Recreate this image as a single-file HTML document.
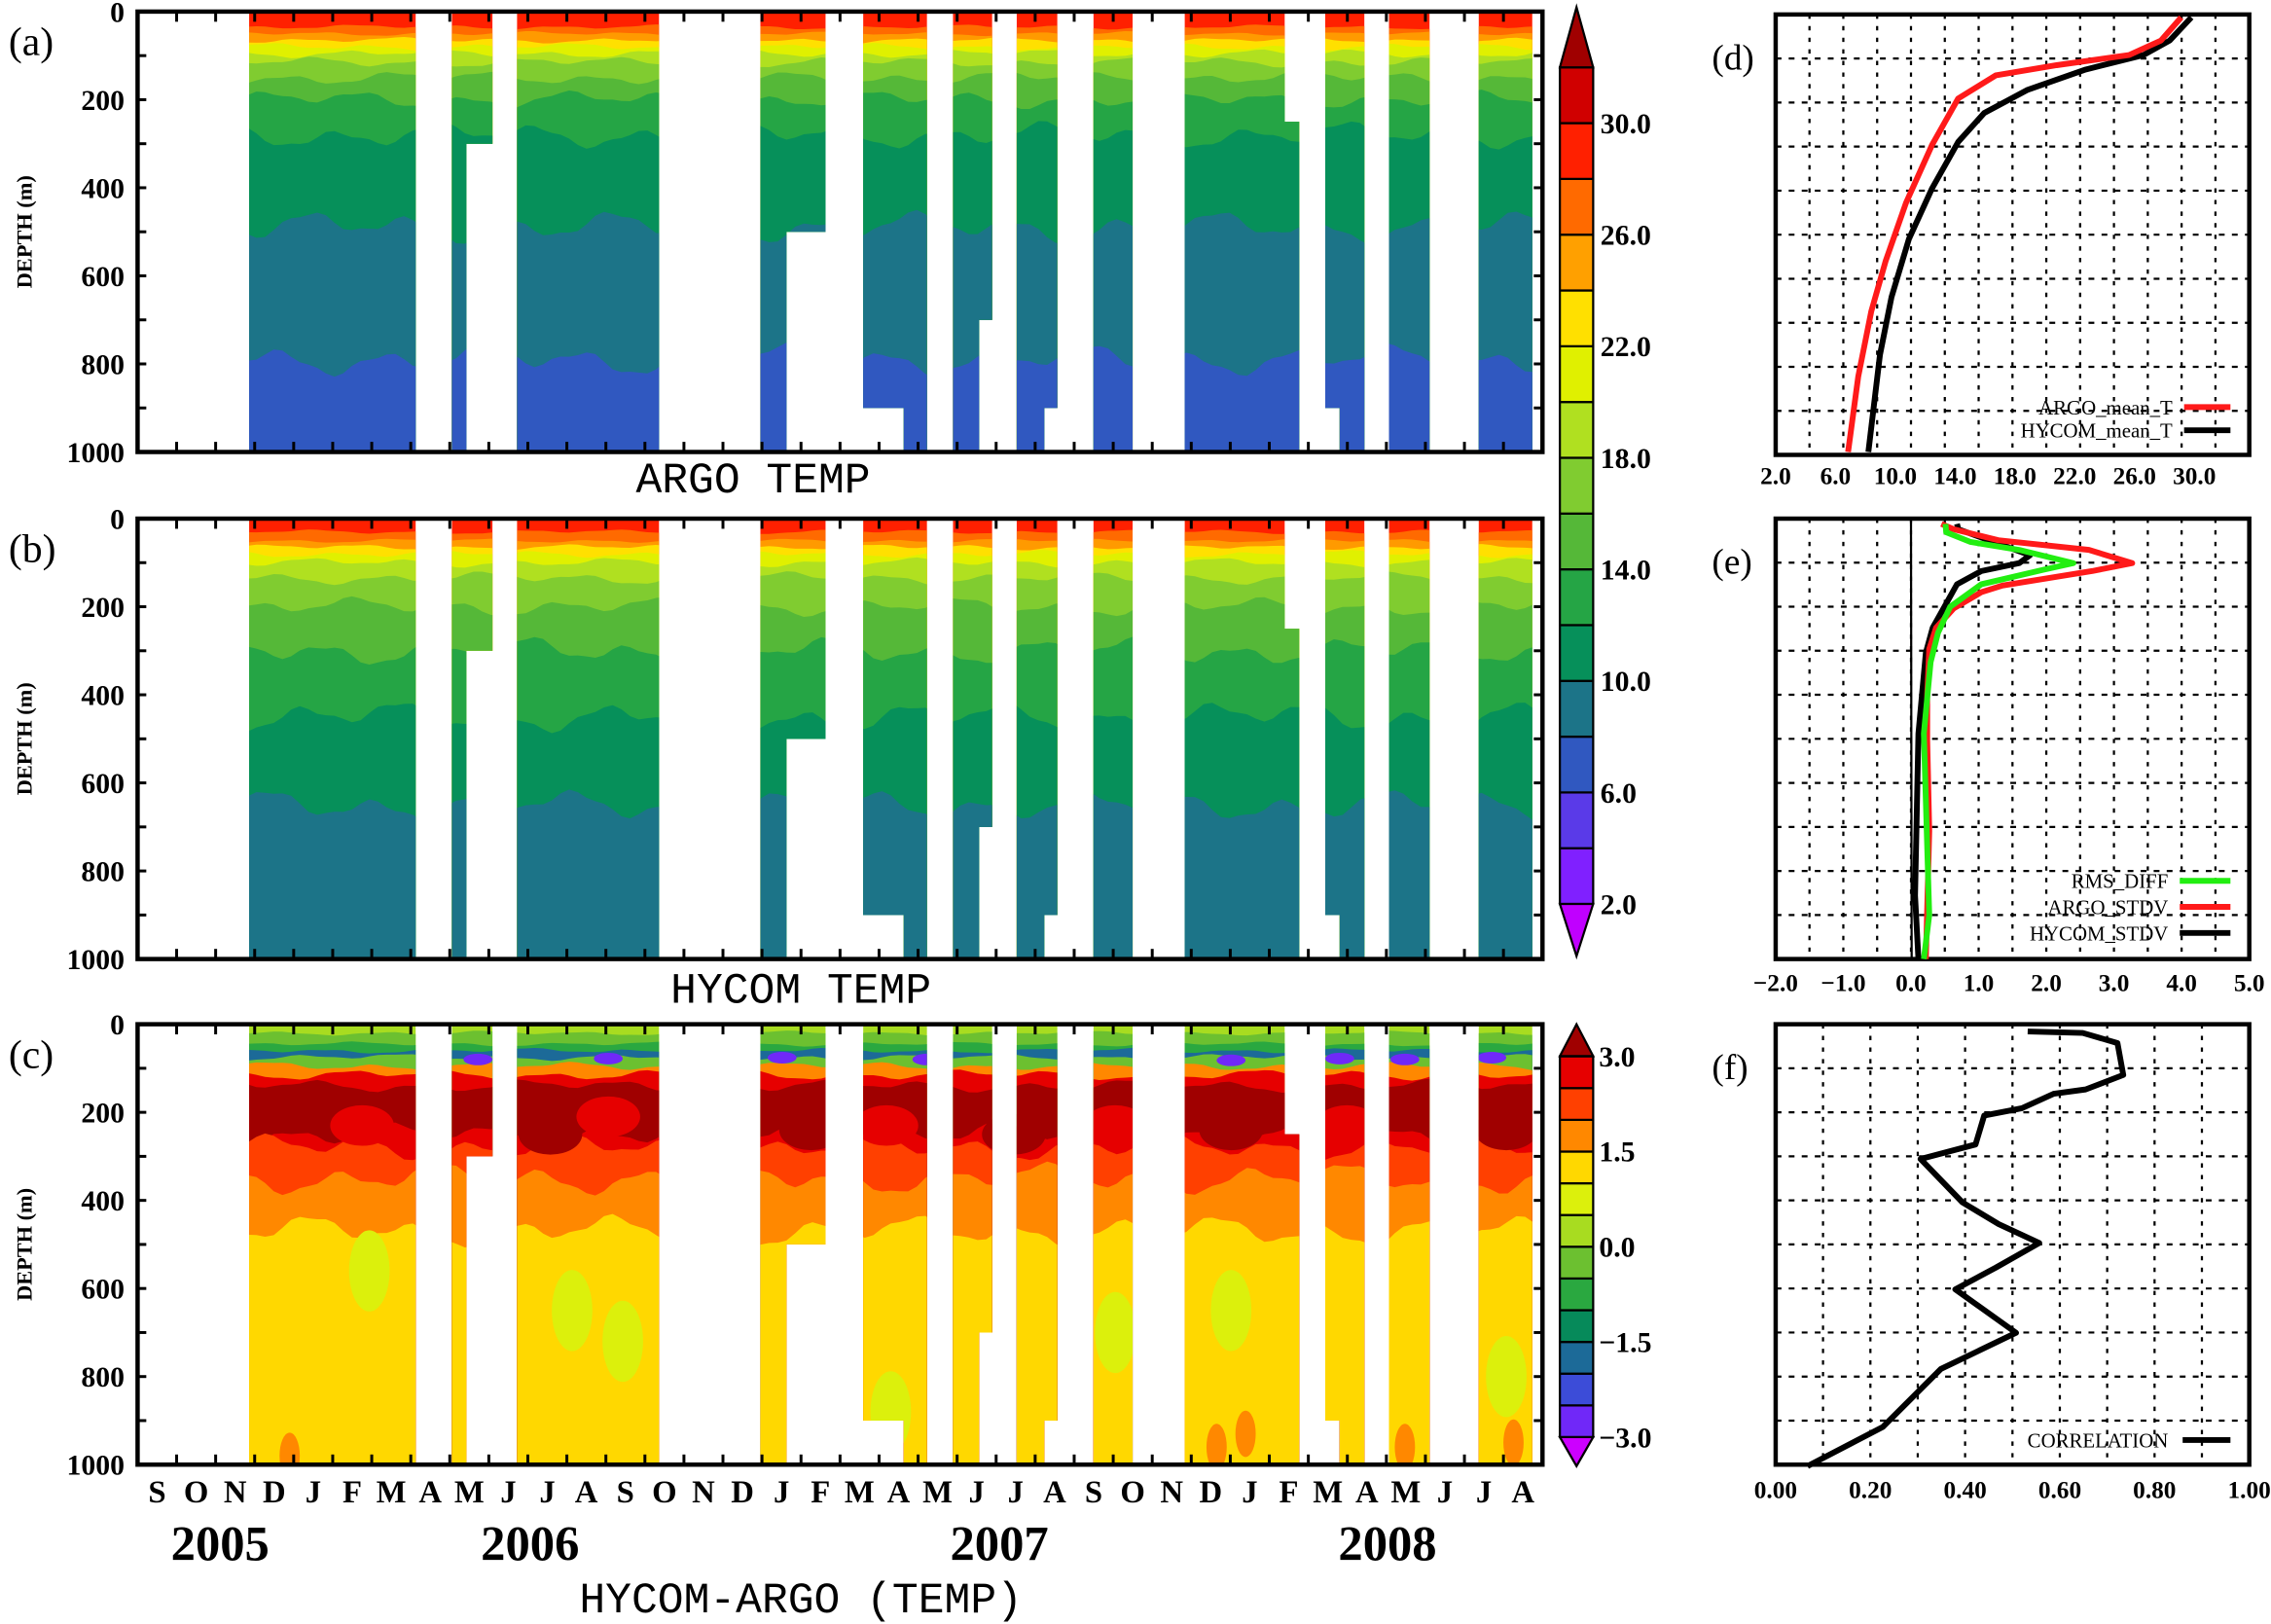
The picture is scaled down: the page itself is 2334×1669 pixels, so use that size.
<!DOCTYPE html>
<html><head><meta charset="utf-8"><style>html,body{margin:0;padding:0;background:#fff}svg{display:block}</style></head>
<body>
<svg id="s" xmlns="http://www.w3.org/2000/svg" width="2334" height="1669" viewBox="0 0 1568 1121" preserveAspectRatio="none" font-family="Liberation Serif, serif">
<rect width="1568" height="1121" fill="#fff"/>
</svg>
<script>
const S=document.getElementById('s');const NS='http://www.w3.org/2000/svg';
function el(t,a,p){const e=document.createElementNS(NS,t);for(const k in a)e.setAttribute(k,a[k]);(p||S).appendChild(e);return e;}
function txt(x,y,s,a){const e=el('text',Object.assign({x:x,y:y},a||{}));e.textContent=s;return e;}
const X0=95,X1=1065,TOPS=[8,358,707],H=304;
const cols=[[172,287,0,1000],[312,322,0,1000],[322,340,0,300],[357,455,0,1000],[525,543,0,1000],[543,570,0,500],[596,624,0,900],[624,640,0,1000],[658,676,0,1000],[676,685,0,700],[702,721,0,1000],[721,730,0,900],[755,782,0,1000],[818,887,0,1000],[887,897,250,1000],[915,925,0,900],[925,942,0,1000],[959,987,0,1000],[1021,1058,0,1000]];
const bandsA=[[0,'#ff2000'],[35,'#ff6a00'],[50,'#ff9a00'],[65,'#ffe000'],[80,'#e0f000'],[95,'#b0e020'],[115,'#80cc30'],[150,'#55b838'],[200,'#25a545'],[280,'#06905a'],[490,'#1c7488'],[790,'#3058c0']];
const bandsB=[[0,'#ff2000'],[30,'#ff6a00'],[50,'#ff9a00'],[65,'#ffe000'],[80,'#e0f000'],[100,'#b0e020'],[135,'#80cc30'],[200,'#55b838'],[300,'#25a545'],[450,'#06905a'],[650,'#1c7488']];
const bandsC=[[0,'#a8dc20'],[20,'#6cc030'],[45,'#2aa840'],[60,'#1c6a98'],[75,'#6cc030'],[95,'#ff8800'],[115,'#e60000'],[140,'#a00000'],[250,'#e60000'],[280,'#ff4000'],[350,'#ff8800'],[470,'#ffd800']];
function noise(x,i){return Math.sin(x*0.09+i*1.7)*0.5+Math.sin(x*0.031+i*2.9)*0.35+Math.sin(x*0.23+i)*0.15;}
function panel(pi,bands){
 const top=TOPS[pi];const id='c'+pi;
 const cp=el('clipPath',{id:id});
 cols.forEach(c=>el('rect',{x:c[0],y:top+c[2]*H/1000,width:c[1]-c[0],height:(c[3]-c[2])*H/1000},cp));
 const g=el('g',{'clip-path':'url(#'+id+')'});
 bands.forEach((b,i)=>{
  let d=b[0];let amp=i==0?0:Math.min(40,Math.max(6,d*0.12));
  let pts=[];
  for(let x=165;x<=1065;x+=6){let dd=d+amp*noise(x,i+pi*5);pts.push(x+','+(top+Math.max(0,dd)*H/1000));}
  pts.push('1065,'+(top+H));pts.push('165,'+(top+H));
  el('polygon',{points:pts.join(' '),fill:b[1]},g);
 });
 if(pi==2){
  [[250,230],[380,250],[420,210],[560,240],[612,230],[700,250],[770,230],[850,240],[930,230],[1040,240]].forEach((p,k)=>el('ellipse',{cx:p[0],cy:top+p[1]*H/1000,rx:22,ry:14,fill:k%2?'#a00000':'#e60000'},g));
  [[255,560],[395,650],[430,720],[560,800],[615,880],[770,700],[850,650],[1040,800]].forEach(p=>el('ellipse',{cx:p[0],cy:top+p[1]*H/1000,rx:14,ry:28,fill:'#dcf00c'},g));
  [[300,76],[330,80],[420,78],[540,76],[640,80],[850,82],[925,78],[970,80],[1030,76]].forEach(p=>el('ellipse',{cx:p[0],cy:top+p[1]*H/1000,rx:10,ry:4,fill:'#7028f8'},g));
  [[840,960],[860,930],[970,960],[1045,950],[200,980]].forEach(p=>el('ellipse',{cx:p[0],cy:top+p[1]*H/1000,rx:7,ry:16,fill:'#ff8800'},g));
 }
 el('rect',{x:X0,y:top,width:X1-X0,height:H,fill:'none',stroke:'#000','stroke-width':3});
 for(let k=0;k<=36;k++){let x=X0+k*(X1-X0)/36;el('line',{x1:x,y1:top+H,x2:x,y2:top+H-7,stroke:'#000','stroke-width':2});el('line',{x1:x,y1:top,x2:x,y2:top+7,stroke:'#000','stroke-width':2});}
 for(let k=1;k<10;k++){let y=top+k*H/10;el('line',{x1:X0,y1:y,x2:X0+6,y2:y,stroke:'#000','stroke-width':2});el('line',{x1:X1,y1:y,x2:X1-6,y2:y,stroke:'#000','stroke-width':2});}
 for(let k=0;k<=5;k++){txt(86,top+k*H/5+7,String(k*200),{'text-anchor':'end','font-size':20,'font-weight':'bold'});}
 const ty=top+H/2;txt(0,0,'DEPTH (m)',{transform:'translate(22,'+ty+') rotate(-90)','text-anchor':'middle','font-size':15,'font-weight':'bold'});
 txt(6,top+30,'('+'abc'[pi]+')',{'font-size':28});
}
panel(0,bandsA);panel(1,bandsB);panel(2,bandsC);
txt(520,340,'ARGO TEMP',{'text-anchor':'middle','font-size':30,'font-family':'Liberation Mono, monospace'});
txt(553,692,'HYCOM TEMP',{'text-anchor':'middle','font-size':30,'font-family':'Liberation Mono, monospace'});
txt(553,1113,'HYCOM-ARGO (TEMP)',{'text-anchor':'middle','font-size':30,'font-family':'Liberation Mono, monospace'});
const mons='SONDJFMAMJJASONDJFMAMJJASONDJFMAMJJA';
for(let k=0;k<36;k++)txt(X0+(k+0.5)*(X1-X0)/36,1037,mons[k],{'text-anchor':'middle','font-size':22,'font-weight':'bold'});
[[152,'2005'],[366,'2006'],[690,'2007'],[958,'2008']].forEach(p=>txt(p[0],1077,p[1],{'text-anchor':'middle','font-size':34,'font-weight':'bold'}));
const c1=['#8020ff','#5a3ae8','#3058c0','#1c7488','#06905a','#25a545','#55b838','#80cc30','#b0e020','#e0f000','#ffe000','#ffa000','#ff6a00','#ff2000','#d00000'];
const cbx=1077,cbw=23;
c1.forEach((c,i)=>{let y=624-(i+1)*38.5;el('rect',{x:cbx,y:y,width:cbw,height:38.5,fill:c,stroke:'#000','stroke-width':1.5});});
el('polygon',{points:`${cbx},46.5 ${cbx+cbw},46.5 ${cbx+cbw/2},5`,fill:'#a00000',stroke:'#000','stroke-width':1.5});
el('polygon',{points:`${cbx},624 ${cbx+cbw},624 ${cbx+cbw/2},660`,fill:'#c000ff',stroke:'#000','stroke-width':1.5});
['30.0','26.0','22.0','18.0','14.0','10.0','6.0','2.0'].forEach((s,i)=>txt(1105,85+i*77+7,s,{'font-size':20,'font-weight':'bold'}));
const c2=['#7028f8','#3c4cd8','#1c6a98','#068a5a','#2aa840','#6cc030','#a8dc20','#dcf00c','#ffd800','#ff8800','#ff4000','#e60000'];
c2.forEach((c,i)=>{let y=992-(i+1)*21.9;el('rect',{x:cbx,y:y,width:cbw,height:21.9,fill:c,stroke:'#000','stroke-width':1.5});});
el('polygon',{points:`${cbx},729 ${cbx+cbw},729 ${cbx+cbw/2},707`,fill:'#a00000',stroke:'#000','stroke-width':1.5});
el('polygon',{points:`${cbx},992 ${cbx+cbw},992 ${cbx+cbw/2},1012`,fill:'#cc00ff',stroke:'#000','stroke-width':1.5});
['3.0','1.5','0.0','\u22121.5','\u22123.0'].forEach((s,i)=>txt(1104,729+i*65.75+7,s,{'font-size':20,'font-weight':'bold'}));
const RX0=1226,RX1=1553;
function rpanel(top,nv,label){
 for(let k=1;k<nv;k++){let x=RX0+k*(RX1-RX0)/nv;el('line',{x1:x,y1:top,x2:x,y2:top+H,stroke:'#000','stroke-width':1.5,'stroke-dasharray':'3,5'});}
 for(let k=1;k<10;k++){let y=top+k*H/10;el('line',{x1:RX0,y1:y,x2:RX1,y2:y,stroke:'#000','stroke-width':1.5,'stroke-dasharray':'4,5'});}
 el('rect',{x:RX0,y:top,width:RX1-RX0,height:H,fill:'none',stroke:'#000','stroke-width':3});
 txt(1182,top+38,label,{'font-size':25});
}
function pl(pts,c,w){el('polyline',{points:pts.map(p=>p.join(',')).join(' '),fill:'none',stroke:c,'stroke-width':w||4,'stroke-linejoin':'round'});}
rpanel(10,14,'(d)');
pl([[1513,12],[1498,28],[1480,38],[1440,48],[1400,62],[1370,78],[1352,98],[1334,130],[1318,165],[1306,205],[1298,245],[1290,312]],'#000');
pl([[1506,12],[1492,28],[1470,38],[1420,45],[1378,52],[1352,68],[1334,100],[1316,140],[1302,180],[1292,215],[1283,260],[1276,312]],'#ff1a1a');
['2.0','6.0','10.0','14.0','18.0','22.0','26.0','30.0'].forEach((s,i)=>txt(RX0+i*41.3,334,s,{'text-anchor':'middle','font-size':17,'font-weight':'bold'}));
txt(1500,286,'ARGO_mean_T',{'text-anchor':'end','font-size':14});txt(1500,302,'HYCOM_mean_T',{'text-anchor':'end','font-size':14});
el('line',{x1:1508,y1:281,x2:1540,y2:281,stroke:'#ff1a1a','stroke-width':4});el('line',{x1:1508,y1:297,x2:1540,y2:297,stroke:'#000','stroke-width':4});
rpanel(358,14,'(e)');
const ex=v=>RX0+(v+2)*(RX1-RX0)/7, ey=d=>358+d*H/1000;
el('line',{x1:ex(0),y1:358,x2:ex(0.01),y2:662,stroke:'#000','stroke-width':1.5});
pl([[0.68,12],[0.7,24],[1.76,83],[1.6,101],[1.04,119],[0.68,149],[0.32,248],[0.22,304],[0.11,488],[0.06,856],[0.11,1000]].map(p=>[ex(p[0]),ey(p[1])]),'#000');
pl([[0.45,12],[0.63,24],[1.29,49],[2.63,71],[3.27,101],[2.68,119],[1.35,152],[1.04,167],[0.63,204],[0.37,248],[0.27,296],[0.24,399],[0.24,503],[0.27,709],[0.22,1000]].map(p=>[ex(p[0]),ey(p[1])]),'#ff1a1a');
pl([[0.51,12],[0.52,31],[0.88,53],[1.6,71],[2.4,101],[1.96,116],[1.04,149],[0.58,200],[0.4,259],[0.29,326],[0.19,488],[0.27,900],[0.19,1000]].map(p=>[ex(p[0]),ey(p[1])]),'#22ee11');
['\u22122.0','\u22121.0','0.0','1.0','2.0','3.0','4.0','5.0'].forEach((s,i)=>txt(ex(i-2),684,s,{'text-anchor':'middle','font-size':17,'font-weight':'bold'}));
[['RMS_DIFF','#22ee11'],['ARGO_STDV','#ff1a1a'],['HYCOM_STDV','#000']].forEach((p,i)=>{txt(1497,613+i*18,p[0],{'text-anchor':'end','font-size':14});el('line',{x1:1505,y1:608+i*18,x2:1540,y2:608+i*18,stroke:p[1],'stroke-width':4});});
rpanel(707,10,'(f)');
pl([[1400,712],[1438,713],[1462,720],[1466,742],[1440,752],[1418,755],[1396,765],[1370,770],[1364,790],[1326,800],[1355,830],[1380,845],[1408,858],[1378,875],[1350,890],[1392,920],[1340,945],[1300,985],[1248,1012]],'#000');
['0.00','0.20','0.40','0.60','0.80','1.00'].forEach((s,i)=>txt(RX0+i*65.4,1034,s,{'text-anchor':'middle','font-size':17,'font-weight':'bold'}));
txt(1497,999,'CORRELATION',{'text-anchor':'end','font-size':14});el('line',{x1:1507,y1:994,x2:1540,y2:994,stroke:'#000','stroke-width':4});
</script>
</body></html>
